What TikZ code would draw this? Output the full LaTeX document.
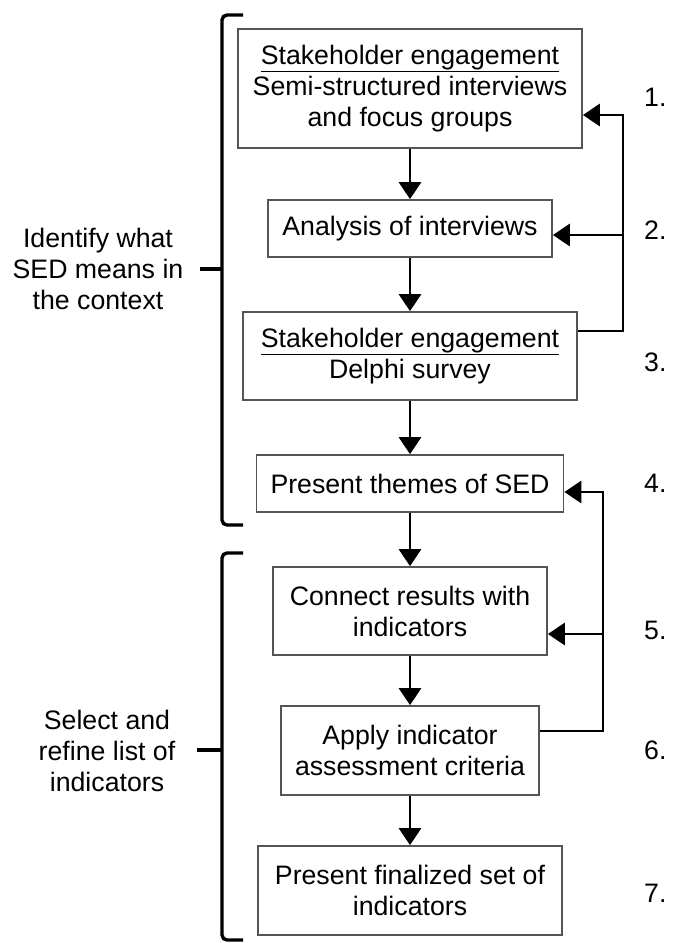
\documentclass[tikz,border=0pt]{standalone}
\usepackage{fontspec}
\setmainfont{Liberation Sans}
\usetikzlibrary{arrows.meta, positioning, calc}
\definecolor{boxgray}{RGB}{85,85,85}
\newcommand{\flowfont}{\fontsize{26.7}{31}\selectfont}
\tikzset{
  block/.style={rectangle, draw=boxgray, line width=1.7pt,
    align=center, inner sep=0pt, font=\flowfont},
  arrow/.style={-{Triangle[length=17pt,width=22pt]}, line width=2.8pt, color=black},
  line/.style={line width=2.8pt, color=black},
  bracket/.style={line width=3.4pt, color=black, rounded corners=5pt},
  sidelabel/.style={align=center, font=\flowfont, inner sep=0pt},
  numlabel/.style={anchor=west, font=\flowfont, inner sep=0pt}
}
\begin{document}
\begin{tikzpicture}[x=1pt, y=-1pt]
  \useasboundingbox (0,0) rectangle (681,943);

  % Process boxes
  \node[block, minimum width=344pt, minimum height=119pt] (b1) at (410,88.5)
    {\underline{Stakeholder engagement}\\Semi-structured interviews\\and focus groups};
  \node[block, minimum width=284pt, minimum height=57pt] (b2) at (410,228.5)
    {Analysis of interviews};
  \node[block, minimum width=334pt, minimum height=88pt] (b3) at (410,356)
    {\underline{Stakeholder engagement}\\Delphi survey};
  \node[block, minimum width=307pt, minimum height=57pt] (b4) at (410,483.5)
    {Present themes of SED};
  \node[block, minimum width=274pt, minimum height=88pt] (b5) at (410,611)
    {Connect results with\\indicators};
  \node[block, minimum width=258pt, minimum height=89pt] (b6) at (410,750.5)
    {Apply indicator\\assessment criteria};
  \node[block, minimum width=304pt, minimum height=89pt] (b7) at (410,890.5)
    {Present finalized set of\\indicators};

  % Main flow
  \draw[arrow] (b1.south) -- (b2.north);
  \draw[arrow] (b2.south) -- (b3.north);
  \draw[arrow] (b3.south) -- (b4.north);
  \draw[arrow] (b4.south) -- (b5.north);
  \draw[arrow] (b5.south) -- (b6.north);
  \draw[arrow] (b6.south) -- (b7.north);

  % Feedback loops
  \coordinate (fb1) at (623,115);
  \coordinate (fb2) at (623,235);
  \draw[arrow] ([yshift=25pt]b3.east) -| (fb1) -- (b1.east |- fb1);
  \draw[arrow] (fb2) -- (b2.east |- fb2);

  \coordinate (fb3) at (603,492);
  \coordinate (fb4) at (603,634);
  \draw[arrow] ([yshift=19.5pt]b6.east) -| (fb3) -- (b4.east |- fb3);
  \draw[arrow] (fb4) -- (b5.east |- fb4);

  % Brackets
  \draw[bracket] (243,15) -- (222,15) -- (222,525) -- (243,525);
  \draw[line, line width=3.4pt] (222,269) -- (200,269);
  \draw[bracket] (243,553) -- (222,553) -- (222,940) -- (243,940);
  \draw[line, line width=3.4pt] (222,750) -- (197,750);

  \node[sidelabel] (ctx) at (98,269) {Identify what\\SED means in\\the context};
  \node[sidelabel] (sel) at (107,751) {Select and\\refine list of\\indicators};

  % Step numbers
  \node[numlabel] (n1) at (644,97) {1.};
  \node[numlabel] (n2) at (644,230) {2.};
  \node[numlabel] (n3) at (644,362) {3.};
  \node[numlabel] (n4) at (644,483) {4.};
  \node[numlabel] (n5) at (644,630) {5.};
  \node[numlabel] (n6) at (644,750) {6.};
  \node[numlabel] (n7) at (644,893) {7.};
\end{tikzpicture}
\end{document}
